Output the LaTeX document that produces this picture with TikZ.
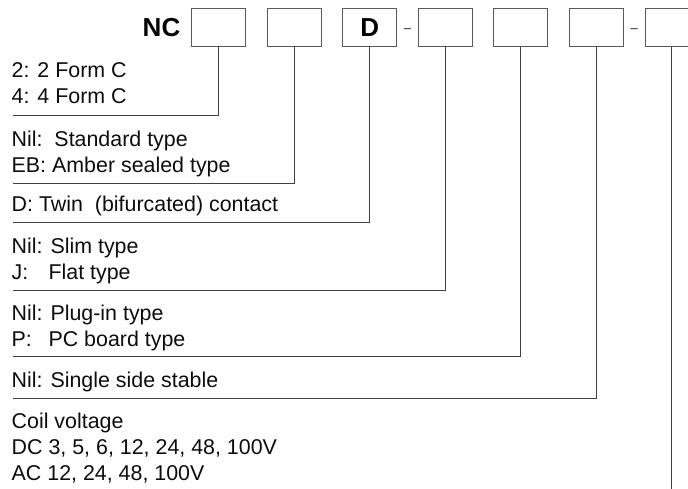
\documentclass[tikz,border=0pt]{standalone}
\usepackage{fontspec}
\setmainfont{Liberation Sans}
\usetikzlibrary{positioning,calc}

\begin{document}
\begin{tikzpicture}[x=1pt,y=-1pt,
        codebox/.style={draw=black!65, line width=1pt, minimum width=54pt, minimum height=38pt, inner sep=0pt,
          font=\fontsize{26}{26}\selectfont\bfseries},
        opttext/.style={anchor=base west, inner sep=0pt, font=\fontsize{21.4}{25}\selectfont, text=black!95},
        dashmark/.style={inner sep=0pt, yshift=-2.5pt, font=\fontsize{13}{13}\selectfont, text=black!90},
        lead/.style={draw=black!75, line width=1pt},
        node distance=20.6pt]
        \useasboundingbox (0,0) rectangle (688,489);
            % code boxes
            \node[codebox] (box1) at (218.5,28) {};
            \node[codebox, right = of box1] (box2) {};
            \node[codebox, right = of box2] (box3) {D};
            \node[codebox, right = of box3] (box4) {};
            \node[codebox, right = of box4] (box5) {};
            \node[codebox, right = of box5] (box6) {};
            \node[codebox, minimum width=48pt, right = of box6] (box7) {};
            \node[inner sep=0pt, font=\fontsize{26}{26}\selectfont\bfseries, left = 10.5pt of box1] (nc) {NC};
            \node[dashmark] (dash1) at ($(box3.east)!0.5!(box4.west)$) {–};
            \node[dashmark] (dash2) at ($(box6.east)!0.5!(box7.west)$) {–};

            % option texts
            \node[opttext] (form2) at (11.5,78) {2: 2 Form C};
            \node[opttext] (form4) at (11.5,104) {4: 4 Form C};
            \node[opttext] (std) at (11.5,147) {Nil:\ \ Standard type};
            \node[opttext] (amber) at (11.5,173) {EB: Amber sealed type};
            \node[opttext] (twin) at (11.5,212) {D: Twin\ \ (bifurcated) contact};
            \node[opttext] (slim) at (11.5,253) {Nil: Slim type};
            \node[opttext] (flat) at (11.5,279) {\rlap{J:}\phantom{Nil:}\ Flat type};
            \node[opttext] (plug) at (11.5,320) {Nil: Plug-in type};
            \node[opttext] (pcb) at (11.5,346) {\rlap{P:}\phantom{Nil:}\ PC board type};
            \node[opttext] (single) at (11.5,387) {Nil: Single side stable};
            \node[opttext] (coil) at (11.5,428) {Coil voltage};
            \node[opttext] (dcv) at (11.5,454) {DC 3, 5, 6, 12, 24, 48, 100V};
            \node[opttext] (acv) at (11.5,480) {AC 12, 24, 48, 100V};

            % leader lines
            \coordinate (l1) at (12.7,116);
            \coordinate (l2) at (12.7,183.5);
            \coordinate (l3) at (12.7,222.7);
            \coordinate (l4) at (12.7,290.5);
            \coordinate (l5) at (12.7,356.7);
            \coordinate (l6) at (12.7,398.3);
            \path (box7.south west) ++(27,0) coordinate (s7);
            \coordinate (e7) at (s7 |- 0,489);

            \draw[lead] (box1.south) |- (l1);
            \draw[lead] (box2.south) |- (l2);
            \draw[lead] (box3.south) |- (l3);
            \draw[lead] (box4.south) |- (l4);
            \draw[lead] (box5.south) |- (l5);
            \draw[lead] (box6.south) |- (l6);
            \draw[lead] (s7) -- (e7);
        \end{tikzpicture}
\end{document}
